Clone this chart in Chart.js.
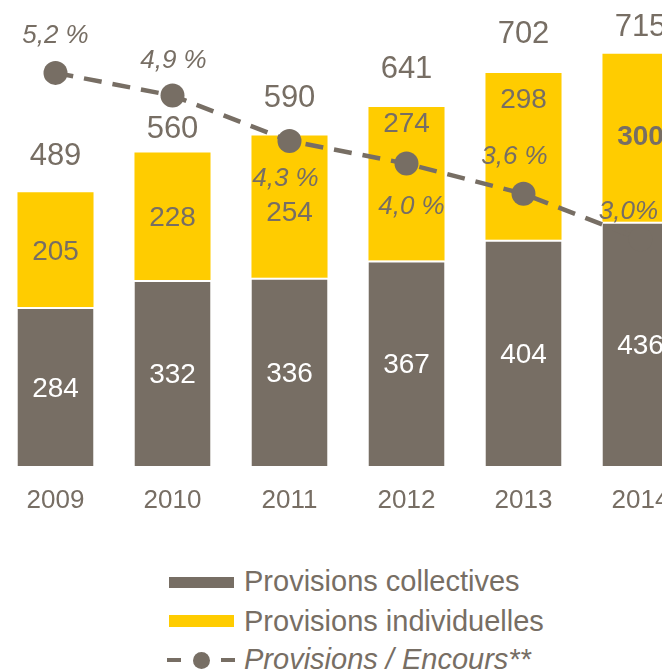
<!DOCTYPE html>
<html><head><meta charset="utf-8">
<script src="https://cdn.jsdelivr.net/npm/chart.js@4.4.1/dist/chart.umd.min.js"></script>
<style>
html,body{margin:0;padding:0;background:#fff;overflow:hidden;width:662px;height:670px;}
#wrap{position:absolute;left:-3px;top:0;}
.lg{position:absolute;font-family:"Liberation Sans",Arial,sans-serif;font-size:29px;line-height:29px;color:#776e64;white-space:nowrap;}
.sw{position:absolute;background:#776e64;}
</style></head><body>
<div id="wrap"><canvas id="c" width="702" height="530"></canvas></div>
<div class="sw" style="left:169px;top:577px;width:65px;height:11px;"></div>
<div class="lg" style="left:244px;top:567px;">Provisions collectives</div>
<div class="sw" style="left:169px;top:615px;width:65px;height:12px;background:#ffcc00;"></div>
<div class="lg" style="left:244px;top:607px;">Provisions individuelles</div>
<div class="sw" style="left:167px;top:658px;width:14px;height:4px;"></div>
<div class="sw" style="left:193px;top:652px;width:17px;height:17px;border-radius:50%;"></div>
<div class="sw" style="left:221px;top:658px;width:14px;height:4px;"></div>
<div class="lg" style="left:244px;top:645px;font-style:italic;">Provisions / Encours**</div>
<script>
const categories = ['2009', '2010', '2011', '2012', '2013', '2014'];
const provisionsCollectives = [284, 332, 336, 367, 404, 436];
const provisionsIndividuelles = [205, 228, 254, 274, 298, 300];
const totals = [489, 560, 590, 641, 702, 715];
const ratioEncours = [5.2, 4.9, 4.3, 4.0, 3.6, 3.0];
const ratioLabels = ['5,2 %', '4,9 %', '4,3 %', '4,0 %', '3,6 %', '3,0%'];

const GRAY = '#776e64';
const YELLOW = '#ffcc00';
const FONT = '"Liberation Sans", Arial, sans-serif';

// label placement config (pixels)
const pctOffset = [[0, -39], [1, -37], [-4, 36], [5, 41], [-9, -39], [-12, -30]];
const yellowShift = [0, 0, 4, -62, -58, -3];
const totalGap = [38, 25, 40, 40, 41, 29];

function txt(ctx, s, x, cy, size, color, style) {
  ctx.save();
  ctx.font = (style || '') + ' ' + size + 'px ' + FONT;
  ctx.fillStyle = color;
  ctx.textAlign = 'center';
  ctx.textBaseline = 'alphabetic';
  ctx.fillText(s, x, cy + 0.358 * size);
  ctx.restore();
}

const labelPlugin = {
  id: 'labels',
  afterDatasetsDraw(chart) {
    const ctx = chart.ctx;
    const g = chart.getDatasetMeta(0).data;
    const yv = chart.getDatasetMeta(1).data;
    const pts = chart.getDatasetMeta(2).data;
    for (let i = 0; i < categories.length; i++) {
      const gb = g[i], yb = yv[i];
      txt(ctx, String(provisionsCollectives[i]), gb.x, (gb.y + gb.base) / 2, 28, '#ffffff');
      txt(ctx, String(provisionsIndividuelles[i]), yb.x, (yb.y + yb.base) / 2 + yellowShift[i], 28, GRAY, i === 5 ? 'bold' : '');
      txt(ctx, String(totals[i]), yb.x, yb.y - totalGap[i], 31, GRAY);
      const p = pts[i];
      txt(ctx, ratioLabels[i], p.x + pctOffset[i][0], p.y + pctOffset[i][1], 26, GRAY, 'italic');
    }
  }
};

new Chart(document.getElementById('c'), {
  data: {
    labels: categories,
    datasets: [
      {
        type: 'bar', label: 'Provisions collectives', data: provisionsCollectives,
        backgroundColor: GRAY, borderColor: '#ffffff',
        borderWidth: {top: 2, left: 0, right: 0, bottom: 0}, borderSkipped: false,
        categoryPercentage: 1, barPercentage: 0.65, yAxisID: 'y', stack: 's', order: 1
      },
      {
        type: 'bar', label: 'Provisions individuelles', data: provisionsIndividuelles,
        backgroundColor: YELLOW, borderWidth: 0,
        categoryPercentage: 1, barPercentage: 0.65, yAxisID: 'y', stack: 's', order: 1
      },
      {
        type: 'line', label: 'Provisions / Encours**', data: ratioEncours,
        borderColor: GRAY, borderWidth: 4.5, borderDash: [18, 11],
        pointRadius: 12, pointHoverRadius: 12, pointBackgroundColor: GRAY, pointBorderWidth: 0,
        tension: 0, fill: false, yAxisID: 'y2', order: 0, clip: false
      }
    ]
  },
  options: {
    responsive: false,
    animation: false,
    layout: {autoPadding: false, padding: {top: 18, left: 0, right: 0, bottom: 0}},
    plugins: {legend: {display: false}, tooltip: {enabled: false}},
    scales: {
      x: {
        offset: true,
        grid: {display: false, drawTicks: false},
        border: {display: false},
        ticks: {color: GRAY, font: {family: FONT, size: 26}, padding: 19, maxRotation: 0},
        afterFit(s) { s.height = 64; s.paddingLeft = 0; s.paddingRight = 0; }
      },
      y: {display: false, stacked: true, min: 0, max: 800},
      y2: {display: false, min: 0, max: 5.926}
    }
  },
  plugins: [labelPlugin]
});
</script>
</body></html>
